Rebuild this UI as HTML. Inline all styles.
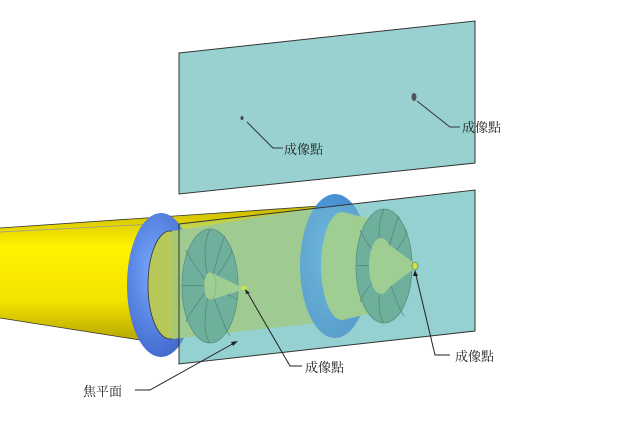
<!DOCTYPE html>
<html><head><meta charset="utf-8"><style>
html,body{margin:0;padding:0;background:#fff;}
svg text{font-family:"Liberation Serif","Noto Serif CJK SC","Noto Sans CJK TC",serif;font-size:13px;fill:#222;}
</style></head><body>
<svg width="640" height="418" viewBox="0 0 640 418" xmlns="http://www.w3.org/2000/svg">
<defs>
<linearGradient id="yel" x1="0" y1="0" x2="0" y2="1">
<stop offset="0" stop-color="#c8b800"/><stop offset="0.3" stop-color="#fff200"/><stop offset="0.7" stop-color="#f4e400"/><stop offset="1" stop-color="#b8a800"/></linearGradient>
<radialGradient id="blu" cx="0.4" cy="0.4" r="0.7"><stop offset="0" stop-color="#7aa8ff"/><stop offset="1" stop-color="#3a64c8"/></radialGradient>
<radialGradient id="blu2" cx="0.4" cy="0.4" r="0.7"><stop offset="0" stop-color="#5aa8e0"/><stop offset="1" stop-color="#3a80c8"/></radialGradient>
</defs>
<polygon points="179,53 475,21 475,163 179,194" fill="#99d1d1" stroke="#333" stroke-width="1"/>
<ellipse cx="414" cy="97" rx="2.5" ry="4" fill="#555"/>
<ellipse cx="242" cy="118" rx="1.5" ry="2" fill="#444"/>
<polyline points="247,122 273,148 283,148" fill="none" stroke="#333"/>
<polyline points="417,101 450,127 460,127" fill="none" stroke="#333"/>
<text x="284" y="154" fill="#2a5a5a">成像點</text>
<text x="462" y="132">成像點</text>
<polygon points="179,224 475,190 475,331 179,364" fill="#99d1d1"/>
<polygon points="0,228 320,206 320,320 140,340 0,318" fill="url(#yel)"/>
<line x1="0" y1="228" x2="320" y2="206" stroke="#333" stroke-width="0.8"/>
<line x1="0" y1="318" x2="140" y2="340" stroke="#333" stroke-width="0.8"/>
<line x1="0" y1="232" x2="155" y2="224" stroke="#999" stroke-width="0.8"/>
<ellipse cx="161" cy="285" rx="34" ry="72" fill="url(#blu)"/>
<ellipse cx="170" cy="285" rx="22" ry="54" fill="#b8c858" stroke="#333" stroke-width="0.8"/>
<polygon points="172,231 325,207 325,322 172,339" fill="#a8c870"/>
<ellipse cx="335" cy="266" rx="35" ry="72" fill="url(#blu2)"/>
<ellipse cx="342" cy="266" rx="21" ry="54" fill="#a8cc70"/>
<polygon points="342,212 385,222 385,310 342,320" fill="#a8cc70"/>
<ellipse cx="210" cy="286" rx="28" ry="57" fill="#5e9e80" stroke="#3a6a55" stroke-width="0.8"/>
<g stroke="#2f5a48" stroke-width="0.7" fill="none">
<path d="M210,286 Q200,250 210,229"/><path d="M210,286 Q190,260 186,250"/><path d="M210,286 Q185,285 182,286"/><path d="M210,286 Q188,315 186,322"/><path d="M210,286 Q200,330 210,343"/><path d="M210,286 Q225,330 230,336"/><path d="M210,286 Q240,300 237,300"/><path d="M210,286 Q232,255 232,250"/><path d="M210,286 Q222,240 225,236"/>
</g>
<polygon points="210,272 245,289 210,300" fill="#a8cc70"/>
<ellipse cx="210" cy="286" rx="6" ry="14" fill="#a8cc70" stroke="#6a8a4a" stroke-width="0.5"/>
<ellipse cx="244" cy="288" rx="3" ry="2" fill="#ee0"/>
<ellipse cx="384" cy="266" rx="28" ry="57" fill="#5e9e80" stroke="#3a6a55" stroke-width="0.8"/>
<g stroke="#2f5a48" stroke-width="0.7" fill="none">
<path d="M384,266 Q374,230 384,209"/><path d="M384,266 Q364,240 360,230"/><path d="M384,266 Q359,265 356,266"/><path d="M384,266 Q362,295 360,302"/><path d="M384,266 Q374,310 384,323"/><path d="M384,266 Q399,310 404,316"/><path d="M384,266 Q410,235 406,230"/><path d="M384,266 Q396,220 399,216"/>
</g>
<polygon points="380,238 418,266 380,294" fill="#a8cc70"/>
<ellipse cx="381" cy="266" rx="12" ry="28" fill="#a8cc70"/>
<ellipse cx="415" cy="266" rx="3" ry="4" fill="#ee0" stroke="#333" stroke-width="0.6"/>
<polygon points="179,224 475,190 475,331 179,364" fill="#8fd0d0" fill-opacity="0.35" stroke="#333" stroke-width="1"/>
<g stroke="#222" fill="none" stroke-width="1">
<polyline points="246,290 290,366 302,366"/>
<polyline points="415,271 435,355 450,355"/>
<polyline points="236,342 150,390 135,390"/>
</g>
<polygon points="245,289 250,293 246,294" fill="#222"/>
<polygon points="415,270 418,276 413,276" fill="#222"/>
<polygon points="238,341 231,342 233,346" fill="#222"/>
<text x="305" y="372">成像點</text>
<text x="455" y="361">成像點</text>
<text x="83" y="396">焦平面</text>
</svg>
</body></html>
